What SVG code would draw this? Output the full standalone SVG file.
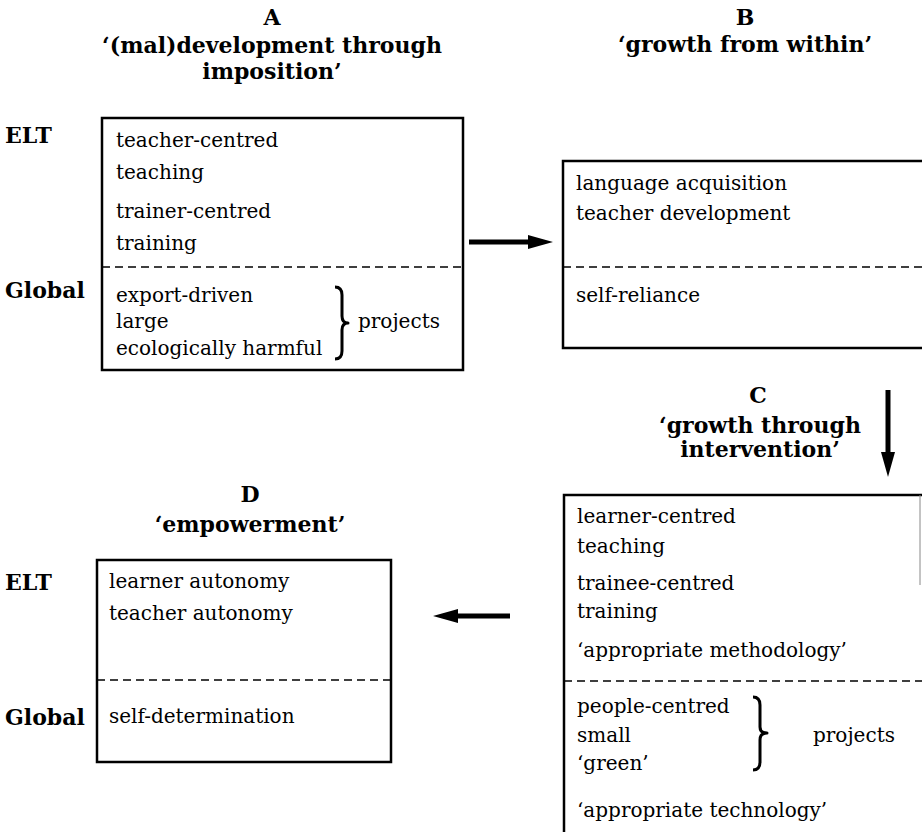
<svg xmlns="http://www.w3.org/2000/svg" width="922" height="832" viewBox="0 0 922 832">
<defs>
<style>
.h{font-family:"DejaVu Serif","Liberation Serif",serif;font-weight:bold;font-size:22px;fill:#000;text-anchor:middle}
.lb{font-family:"DejaVu Serif","Liberation Serif",serif;font-weight:bold;font-size:22px;fill:#000}
.t{font-family:"DejaVu Serif","Liberation Serif",serif;font-size:20px;fill:#000}
.box{fill:none;stroke:#000;stroke-width:2.5}
.dash{fill:none;stroke:#000;stroke-width:1.5;stroke-dasharray:8 5}
.br{fill:none;stroke:#000;stroke-width:3;stroke-linejoin:round}
.arr{stroke:#000;stroke-width:5;fill:none}
</style>
<marker id="ah" viewBox="0 0 25 14" refX="3" refY="7" markerWidth="25" markerHeight="14" orient="auto" markerUnits="userSpaceOnUse">
<path d="M0,0 L25,7 L0,14 Z" fill="#000"/>
</marker>
</defs>
<rect width="922" height="832" fill="#fff"/>

<g id="rowlabels">
<text class="lb" x="5" y="143">ELT</text>
<text class="lb" x="5" y="298">Global</text>
<text class="lb" x="5" y="590">ELT</text>
<text class="lb" x="5" y="725">Global</text>
</g>

<g id="nodeA">
<text class="h" x="272" y="25">A</text>
<text class="h" x="272" y="53">‘(mal)development through</text>
<text class="h" x="272" y="79">imposition’</text>
<rect class="box" x="102" y="118" width="361" height="252"/>
<line class="dash" x1="102" y1="267" x2="463" y2="267"/>
<text class="t" x="116" y="147">teacher-centred</text>
<text class="t" x="116" y="179">teaching</text>
<text class="t" x="116" y="218">trainer-centred</text>
<text class="t" x="116" y="250">training</text>
<text class="t" x="116" y="302">export-driven</text>
<text class="t" x="116" y="328">large</text>
<text class="t" x="116" y="355">ecologically harmful</text>
<path class="br" d="M335 287 Q342 287 342 295 L342 316 Q342 323 348 323 Q342 323 342 330 L342 351 Q342 359 335 359"/>
<text class="t" x="358" y="328">projects</text>
</g>

<g id="nodeB">
<text class="h" x="745" y="25">B</text>
<text class="h" x="745" y="52">‘growth from within’</text>
<path class="box" d="M922 161 L563 161 L563 348 L922 348"/>
<line class="dash" x1="563" y1="267" x2="922" y2="267"/>
<text class="t" x="576" y="190">language acquisition</text>
<text class="t" x="576" y="220">teacher development</text>
<text class="t" x="576" y="302">self-reliance</text>
</g>

<g id="nodeC">
<text class="h" x="758" y="403">C</text>
<text class="h" x="760" y="433">‘growth through</text>
<text class="h" x="760" y="457">intervention’</text>
<path class="box" d="M564 834 L564 495 L922 495"/>
<line x1="920" y1="495" x2="920" y2="585" stroke="#888" stroke-width="1"/>
<line class="dash" x1="564" y1="681" x2="922" y2="681"/>
<text class="t" x="577" y="523">learner-centred</text>
<text class="t" x="577" y="553">teaching</text>
<text class="t" x="577" y="590">trainee-centred</text>
<text class="t" x="577" y="618">training</text>
<text class="t" x="577" y="657">‘appropriate methodology’</text>
<text class="t" x="577" y="713">people-centred</text>
<text class="t" x="577" y="742">small</text>
<text class="t" x="577" y="770">‘green’</text>
<path class="br" d="M753 697 Q760 697 760 705 L760 727 Q760 733 767 733 Q760 733 760 740 L760 762 Q760 770 753 770"/>
<text class="t" x="813" y="742">projects</text>
<text class="t" x="577" y="817">‘appropriate technology’</text>
</g>

<g id="nodeD">
<text class="h" x="250" y="502">D</text>
<text class="h" x="250" y="532">‘empowerment’</text>
<rect class="box" x="97" y="560" width="294" height="202"/>
<line class="dash" x1="97" y1="680" x2="391" y2="680"/>
<text class="t" x="109" y="588">learner autonomy</text>
<text class="t" x="109" y="620">teacher autonomy</text>
<text class="t" x="109" y="723">self-determination</text>
</g>

<g id="connectors">
<line class="arr" x1="469" y1="242" x2="531" y2="242" marker-end="url(#ah)"/>
<line class="arr" x1="888" y1="390" x2="888" y2="455" marker-end="url(#ah)"/>
<line class="arr" x1="510" y1="616" x2="455" y2="616" marker-end="url(#ah)"/>
</g>
</svg>
